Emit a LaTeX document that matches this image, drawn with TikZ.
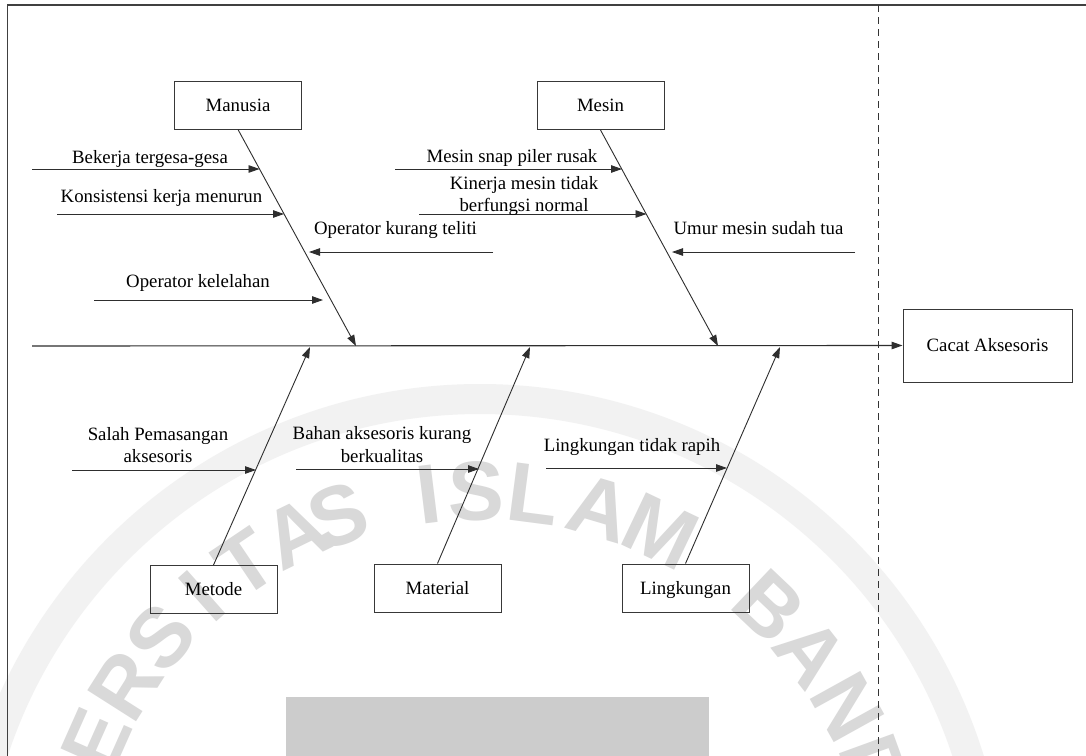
\documentclass[tikz,border=0pt]{standalone}
\usepackage{fontspec}
\setmainfont{Liberation Serif}
\newfontfamily\wmfont{Liberation Sans}
\usetikzlibrary{arrows.meta}

\begin{document}
\begin{tikzpicture}[x=1pt,y=-1pt,
  ink/.style={draw=black!82, line width=0.9pt},
  tip/.style={-{Triangle[length=11pt,width=7.5pt]}},
  catbox/.style={draw=black!78, line width=1pt, rectangle, minimum width=127pt,
    minimum height=48pt, inner sep=0pt, text height=12.4pt, text depth=0pt,
    font=\fontsize{18.8}{22.4}\selectfont},
  cause/.style={inner sep=0pt, font=\fontsize{18.8}{22.4}\selectfont, anchor=base, align=center},
  wmletter/.style={text=black!15, font=\wmfont\bfseries\fontsize{84}{84}\selectfont, inner sep=0pt}
]
\useasboundingbox (0,0) rectangle (1086,755);
\clip (0,0) rectangle (1086,755);
\fill[white] (0,0) rectangle (1086,755);

% faint seal in the background
\draw[black!5, line width=30pt] (480,911) circle[radius=512pt];
\foreach \ch/\a [count=\i] in {E/156, R/147.5, S/139.4, I/131.5, T/124, A/116, S/109.7,
    I/97, S/90.5, L/82.6, A/73.5, M/64.5, B/46.5, A/38, N/29, D/20}
  \node[wmletter, rotate=\a-90] (wm\i) at ({480+420*cos(\a)}, {911-420*sin(\a)}) {\ch};
\fill[black!20] (286,697) rectangle (709,760);

% frame and dashed divider
\draw[black!75, line width=1.2pt] (7.5,760) -- (7.5,5) -- (1090,5);
\draw[black!80, line width=0.9pt, dash pattern=on 7pt off 5pt] (878,5) -- (878,760);

% category boxes and effect
\node[catbox] (manusia) at (238,105) {Manusia};
\node[catbox] (mesin) at (600.5,105.5) {Mesin};
\node[catbox] (metode) at (213.5,589.5) {Metode};
\node[catbox] (material) at (437.5,588) {Material};
\node[catbox] (lingkungan) at (685.5,588) {Lingkungan};
\node[catbox, minimum width=169pt, minimum height=73pt] (cacat) at (987.5,345.5) {Cacat Aksesoris};

% spine
\coordinate (spineL) at (32,346);
\draw[ink, line width=1.1pt, tip] (spineL) -- (cacat.west);

% main bones
\coordinate (manusiaTip) at (356,346);
\coordinate (mesinTip) at (718,346);
\coordinate (metodeTip) at (310,347);
\coordinate (materialTip) at (530,347);
\coordinate (lingkunganTip) at (780,347);
\draw[ink, tip] (manusia.south) -- (manusiaTip);
\draw[ink, tip] (mesin.south) -- (mesinTip);
\draw[ink, tip] (metode.north) -- (metodeTip);
\draw[ink, tip] (material.north) -- (materialTip);
\draw[ink, tip] (lingkungan.north) -- (lingkunganTip);

% causes: Manusia
\coordinate (c1s) at (32,169);   \coordinate (c1e) at (259.5,169);
\coordinate (c2s) at (57,214);   \coordinate (c2e) at (284,214);
\coordinate (c3s) at (493,252);  \coordinate (c3e) at (309,252);
\coordinate (c4s) at (94,300);   \coordinate (c4e) at (323,300);
\draw[ink, tip] (c1s) -- (c1e);
\draw[ink, tip] (c2s) -- (c2e);
\draw[ink, tip] (c3s) -- (c3e);
\draw[ink, tip] (c4s) -- (c4e);
\node[cause] (t1) at (150,163) {Bekerja tergesa-gesa};
\node[cause] (t2) at (161.5,202) {Konsistensi kerja menurun};
\node[cause] (t3) at (395.5,234.5) {Operator kurang teliti};
\node[cause] (t4) at (198,287) {Operator kelelahan};

% causes: Mesin
\coordinate (c5s) at (395,169);  \coordinate (c5e) at (622,169);
\coordinate (c6s) at (419,214);  \coordinate (c6e) at (646.5,214);
\coordinate (c7s) at (855,252);  \coordinate (c7e) at (672,252);
\draw[ink, tip] (c5s) -- (c5e);
\draw[ink, tip] (c6s) -- (c6e);
\draw[ink, tip] (c7s) -- (c7e);
\node[cause] (t5) at (512,162.7) {Mesin snap piler rusak};
\node[cause] (t6) at (524,211.7) {Kinerja mesin tidak\\berfungsi normal};
\node[cause] (t7) at (758.5,234.7) {Umur mesin sudah tua};

% causes: Metode, Material, Lingkungan
\coordinate (c8s) at (72,470);   \coordinate (c8e) at (256,470);
\coordinate (c9s) at (296,469);  \coordinate (c9e) at (479,469);
\coordinate (c10s) at (546,468); \coordinate (c10e) at (727,468);
\draw[ink, tip] (c8s) -- (c8e);
\draw[ink, tip] (c9s) -- (c9e);
\draw[ink, tip] (c10s) -- (c10e);
\node[cause] (t8) at (158,462.7) {Salah Pemasangan\\aksesoris};
\node[cause] (t9) at (382,462) {Bahan aksesoris kurang\\berkualitas};
\node[cause] (t10) at (632,451.5) {Lingkungan tidak rapih};
\end{tikzpicture}
\end{document}
